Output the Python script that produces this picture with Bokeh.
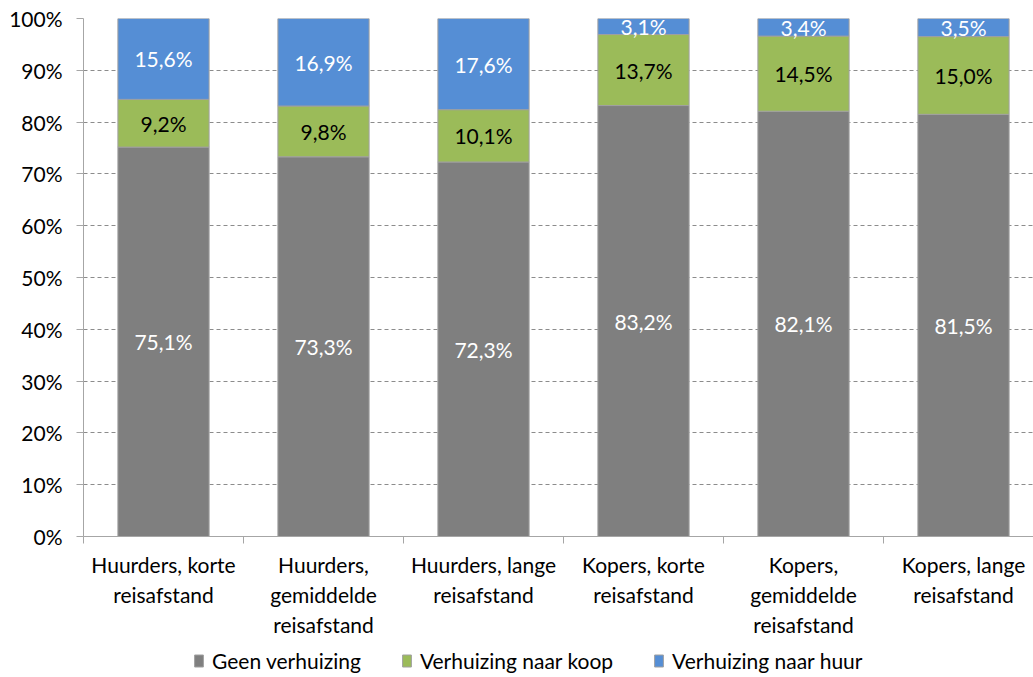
from bokeh.plotting import figure
from bokeh.layouts import column
from bokeh.models import (ColumnDataSource, Range1d, FixedTicker, NumeralTickFormatter,
                          Legend, LegendItem)
from bokeh.core.properties import value
from bokeh.embed import file_html
from bokeh.resources import INLINE

categories = ["Huurders, korte\nreisafstand", "Huurders,\ngemiddelde\nreisafstand",
              "Huurders, lange\nreisafstand", "Kopers, korte\nreisafstand",
              "Kopers,\ngemiddelde\nreisafstand", "Kopers, lange\nreisafstand"]
geen = [75.1, 73.3, 72.3, 83.2, 82.1, 81.5]
koop = [9.2, 9.8, 10.1, 13.7, 14.5, 15.0]
huur = [15.6, 16.9, 17.6, 3.1, 3.4, 3.5]
series_names = ["Geen verhuizing", "Verhuizing naar koop", "Verhuizing naar huur"]
colors = ["#7F7F7F", "#9BBB59", "#558ED5"]
label_colors = ["white", "black", "white"]
yticks = [0, 0.1, 0.2, 0.3, 0.4, 0.5, 0.6, 0.7, 0.8, 0.9, 1.0]

FONT = "Lato"
FS = "21px"
n = len(categories)
xs = [i + 0.5 for i in range(n)]
totals = [g + k + h for g, k, h in zip(geen, koop, huur)]

p = figure(width=1033, height=645, output_backend="svg", toolbar_location=None,
           x_range=Range1d(0, 950 / 160), y_range=Range1d(0, 1),
           min_border_left=83, min_border_right=0, min_border_top=18, min_border_bottom=109)
p.outline_line_color = None
p.background_fill_color = "white"

bottom = [0.0] * n
for vals, name, col, lcol in zip([geen, koop, huur], series_names, colors, label_colors):
    frac = [v / t for v, t in zip(vals, totals)]
    top = [b + f for b, f in zip(bottom, frac)]
    mid = [(b + t) / 2 for b, t in zip(bottom, top)]
    txt = [f"{v:.1f}".replace(".", ",") + "%" for v in vals]
    src = ColumnDataSource(dict(x=xs, bottom=bottom, top=top, mid=mid, txt=txt))
    p.vbar(x="x", bottom="bottom", top="top", width=0.57, source=src,
           fill_color=col, line_color="#A0A0A0", line_width=1)
    p.text(x="x", y="mid", text="txt", source=src, text_align="center",
           text_baseline="middle", text_color=lcol, text_font=value(FONT),
           text_font_size=FS)
    bottom = top

# axes
p.xaxis.ticker = FixedTicker(ticks=xs, minor_ticks=list(range(n + 1)))
p.xaxis.major_label_overrides = {x: c for x, c in zip(xs, categories)}
p.xaxis.major_tick_line_color = None
p.xaxis.minor_tick_out = 7
p.xaxis.minor_tick_in = 0
p.xaxis.minor_tick_line_color = "#A6A6A6"
p.xaxis.axis_line_color = "#A6A6A6"
p.xaxis.major_label_text_font = FONT
p.xaxis.major_label_text_font_size = FS
p.xaxis.major_label_text_color = "black"
p.xaxis.major_label_standoff = 8

p.yaxis.ticker = FixedTicker(ticks=yticks, minor_ticks=[])
p.yaxis.formatter = NumeralTickFormatter(format="0%")
p.yaxis.major_tick_out = 7
p.yaxis.major_tick_in = 0
p.yaxis.major_tick_line_color = "#A6A6A6"
p.yaxis.axis_line_color = "#A6A6A6"
p.yaxis.major_label_text_font = FONT
p.yaxis.major_label_text_font_size = FS
p.yaxis.major_label_text_color = "black"
p.yaxis.major_label_standoff = 14

p.xgrid.grid_line_color = None
p.ygrid.ticker = FixedTicker(ticks=yticks[1:])
p.ygrid.grid_line_color = "#8C8C8C"
p.ygrid.grid_line_dash = "4 3"

# legend strip below
lg = figure(width=1033, height=32, output_backend="svg", toolbar_location=None,
            x_axis_type=None, y_axis_type=None, x_range=Range1d(0, 1), y_range=Range1d(0, 1),
            min_border_left=0, min_border_right=0, min_border_top=0, min_border_bottom=0)
lg.outline_line_color = None
lg.grid.visible = False
items = []
for name, col in zip(series_names, colors):
    r = lg.vbar(x=[-5], top=[-5], bottom=[-6], width=0.1, fill_color=col,
                line_color="#A0A0A0", line_width=1)
    items.append(LegendItem(label=name, renderers=[r]))
legend = Legend(items=items, orientation="horizontal", location=(110, 4),
                glyph_width=11, glyph_height=15, label_standoff=8, spacing=40,
                padding=0, margin=0, border_line_color=None, background_fill_alpha=0,
                label_text_font=FONT, label_text_font_size=FS, label_text_color="black")
lg.add_layout(legend)

open("out.html", "w").write(file_html(column(p, lg, spacing=0), INLINE))
